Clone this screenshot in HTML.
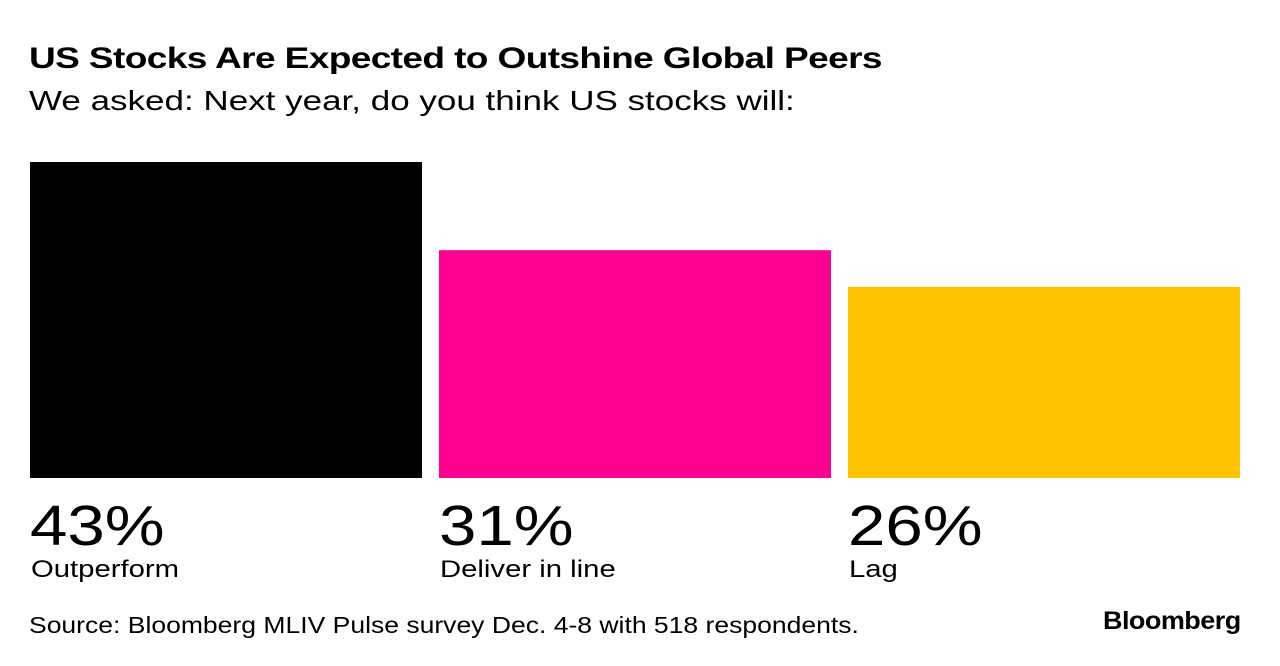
<!DOCTYPE html>
<html><head><meta charset="utf-8">
<style>
body{margin:0;width:1280px;height:666px;background:#fff;font-family:"Liberation Sans",sans-serif;overflow:hidden;position:relative}
.t{position:absolute;white-space:nowrap;color:#000;transform-origin:0 0}
</style></head><body>
<div class="t" style="left:29px;top:42px;font-size:30px;font-weight:bold;letter-spacing:-0.5px;transform:scaleX(1.235)">US Stocks Are Expected to Outshine Global Peers</div>
<div class="t" style="left:29px;top:85px;font-size:28px;transform:scaleX(1.25)">We asked: Next year, do you think US stocks will:</div>
<svg id="chart" width="1280" height="666" style="position:absolute;left:0;top:0"></svg>
<div class="t" style="left:29px;top:612px;font-size:23px;transform:scaleX(1.153)">Source: Bloomberg MLIV Pulse survey Dec. 4-8 with 518 respondents.</div>
<div class="t" style="left:1103px;top:607px;font-size:25px;font-weight:bold;letter-spacing:-0.5px;transform:scaleX(1.08)">Bloomberg</div>
<script>
const categories=["Outperform","Deliver in line","Lag"];
const values=[43,31,26];
const colors=["#000000","#ff0090","#ffc300"];
const svg=document.getElementById('chart');
const NS="http://www.w3.org/2000/svg";
const base=478, pxPer=316/43, x0=30, bw=392, gap=17;
const y=v=>base-v*pxPer;
values.forEach((v,i)=>{
  const x=x0+i*(bw+gap);
  const r=document.createElementNS(NS,'rect');
  r.setAttribute('x',x);r.setAttribute('y',y(v));r.setAttribute('width',bw);r.setAttribute('height',base-y(v));r.setAttribute('fill',colors[i]);
  
  
  svg.appendChild(r);
  const t=document.createElementNS(NS,'text');
  t.setAttribute('transform','translate('+x+',545) scale(1.18,1)');
  t.setAttribute('font-size','57');t.setAttribute('font-family','Liberation Sans, sans-serif');
  t.textContent=v+'%';
  
  
  svg.appendChild(t);
  const c=document.createElementNS(NS,'text');
  c.setAttribute('transform','translate('+(x+1)+',577) scale(1.22,1)');
  c.setAttribute('font-size','24');c.setAttribute('font-family','Liberation Sans, sans-serif');
  c.textContent=categories[i];
  
  
  svg.appendChild(c);
});
</script>
</body></html>
